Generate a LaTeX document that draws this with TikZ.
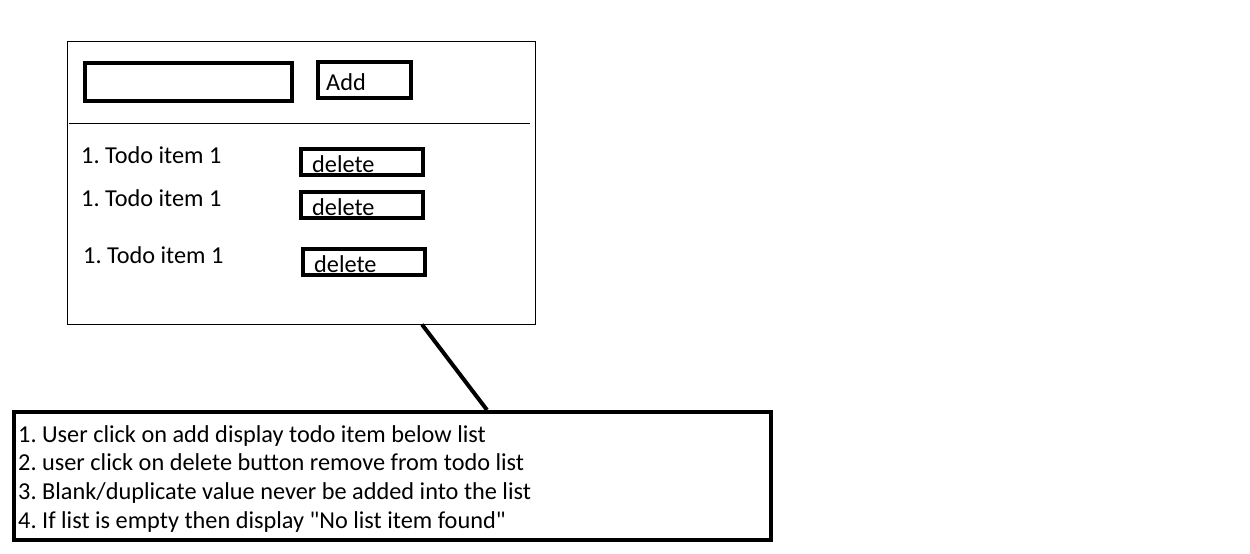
\documentclass[tikz,border=0pt]{standalone}
\usepackage{fontspec}
\setmainfont{Carlito}[Ligatures=NoCommon]
\usepackage{tikz}

\tikzset{
  thinbox/.style={draw,line width=1pt,inner sep=0pt},
  thickbox/.style={draw,line width=4pt,inner sep=0pt},
  uitext/.style={inner sep=0pt,anchor=base west,font=\fontsize{24.3}{28.7}\selectfont\frenchspacing}
}

\begin{document}
\begin{tikzpicture}[x=1pt,y=-1pt]
    \useasboundingbox (0,0) rectangle (1250,554);

    % the page mock-up
    \node[thinbox,minimum width=468pt,minimum height=283pt] (board) at (301,182.5) {};
    \draw [line width=1pt] (69,123) -- (530,123);

    % input and add button
    \node[thickbox,minimum width=207pt,minimum height=38pt] (input) at (188.5,82) {};
    \node[thickbox,minimum width=93pt,minimum height=36pt] (addbtn) at (364.5,80) {};
    \node[uitext] (addlabel) at (326,90) {Add};

    % todo rows
    \foreach \dx/\yb [count=\k] in {0/163,0/206,2/263}
    {
      \node[uitext] (item\k) at (81+\dx,\yb) {1. Todo item 1};
      \node[thickbox,minimum width=122pt,minimum height=26pt] (delbtn\k) at (362+\dx,\yb-1) {};
      \node[uitext] (dellabel\k) at (312+\dx,\yb+9) {delete};
    }

    % notes
    \node[thickbox,minimum width=757pt,minimum height=128pt] (notes) at (392.5,476) {};
    \foreach \t [count=\k] in {1. User click on add display todo item below list,
      2. user click on delete button remove from todo list,
      3. Blank/duplicate value never be added into the list,
      4. If list is empty then display \textquotedbl No list item found\textquotedbl}
    {
      \node[uitext] (note\k) at (18,413.3+28.7*\k) {\t};
    }

    \coordinate (from) at (board.south -| 422,0);
    \coordinate (to) at (notes.north -| 487,0);
    \draw [line width=4pt] (from) -- (to);
\end{tikzpicture}
\end{document}
